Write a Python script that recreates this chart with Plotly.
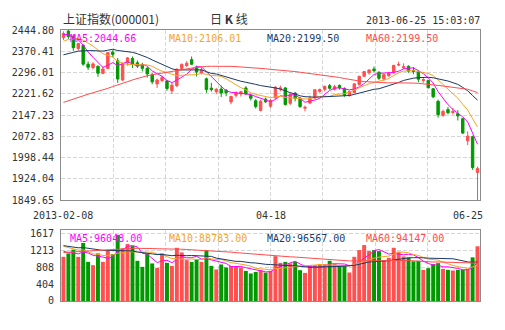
import pandas as pd
import plotly.graph_objects as go

# ---------------- data ----------------
dates = ["2013-02-08","2013-02-18","2013-02-19","2013-02-20","2013-02-21","2013-02-22","2013-02-25","2013-02-26","2013-02-27","2013-02-28",
         "2013-03-01","2013-03-04","2013-03-05","2013-03-06","2013-03-07","2013-03-08","2013-03-11","2013-03-12","2013-03-13","2013-03-14",
         "2013-03-15","2013-03-18","2013-03-19","2013-03-20","2013-03-21","2013-03-22","2013-03-25","2013-03-26","2013-03-27","2013-03-28",
         "2013-03-29","2013-04-01","2013-04-02","2013-04-03","2013-04-08","2013-04-09","2013-04-10","2013-04-11","2013-04-12","2013-04-15",
         "2013-04-16","2013-04-17","2013-04-18","2013-04-19","2013-04-22","2013-04-23","2013-04-24","2013-04-25","2013-04-26","2013-05-02",
         "2013-05-03","2013-05-06","2013-05-07","2013-05-08","2013-05-09","2013-05-10","2013-05-13","2013-05-14","2013-05-15","2013-05-16",
         "2013-05-17","2013-05-20","2013-05-21","2013-05-22","2013-05-23","2013-05-24","2013-05-27","2013-05-28","2013-05-29","2013-05-30",
         "2013-05-31","2013-06-03","2013-06-04","2013-06-05","2013-06-06","2013-06-07","2013-06-13","2013-06-14","2013-06-17","2013-06-18",
         "2013-06-19","2013-06-20","2013-06-21","2013-06-24","2013-06-25"]

opens = [2418,2441,2422,2380,2391,2325,2313,2318,2293,2310,
         2367,2337,2270,2330,2345,2330,2323,2310,2288,2256,
         2268,2266,2232,2250,2310,2320,2341,2315,2294,2274,
         2241,2229,2238,2234,2193,2216,2221,2242,2216,2197,
         2163,2203,2178,2207,2238,2242,2188,2224,2206,2171,
         2189,2207,2230,2237,2250,2237,2251,2240,2215,2226,
         2254,2283,2295,2308,2297,2274,2284,2296,2322,2312,
         2318,2303,2299,2268,2268,2239,2195,2146,2166,2156,
         2152,2134,2057,2071,1946]
highs = [2440,2444.8,2430,2400,2395,2335,2332,2320,2318,2367,
         2374,2347,2330,2350,2352,2338,2330,2316,2294,2275,
         2285,2270,2260,2310,2328,2336,2352,2320,2314,2278,
         2260,2242,2250,2238,2215,2230,2232,2248,2222,2203,
         2200,2208,2203,2248,2250,2245,2226,2228,2210,2180,
         2215,2237,2240,2251,2256,2253,2254,2244,2233,2258,
         2284,2301,2306,2317,2300,2293,2298,2322,2334,2328,
         2321,2315,2304,2280,2269,2242,2201,2166,2175,2172,
         2164,2137,2090,2075,1967]
lows = [2410,2414,2372,2373,2320,2305,2307,2281,2290,2308,
        2350,2260,2266,2320,2312,2312,2300,2278,2255,2242,
        2262,2232,2221,2245,2305,2316,2322,2282,2290,2225,
        2229,2220,2210,2213,2185,2208,2212,2218,2198,2170,
        2160,2190,2172,2204,2230,2180,2182,2195,2172,2160,
        2185,2203,2225,2230,2236,2233,2236,2211,2212,2222,
        2250,2279,2288,2297,2270,2267,2282,2290,2318,2308,
        2295,2290,2262,2260,2240,2206,2138,2141,2150,2149,
        2128,2081,2042,1955,1849.65]
closes = [2432.4,2421.6,2382.9,2397.2,2325.2,2314.2,2326.2,2293.7,2308.2,2365.6,
          2359.5,2273.4,2326.2,2347.2,2324.2,2318.6,2310.6,2291.1,2263.2,2270.0,
          2278.4,2240.0,2251.5,2307.7,2324.2,2328.3,2325.0,2297.5,2305.0,2236.6,
          2236.3,2237.0,2224.0,2225.0,2212.0,2225.9,2229.0,2221.0,2206.0,2177.0,
          2195.0,2193.0,2198.0,2244.6,2242.0,2184.0,2219.0,2205.0,2177.0,2174.1,
          2205.5,2235.6,2236.5,2246.9,2240.7,2246.3,2242.1,2217.0,2229.6,2256.3,
          2282.9,2299.2,2305.1,2302.4,2275.7,2288.5,2293.1,2321.2,2324.2,2316.0,
          2300.6,2299.2,2272.4,2270.9,2242.6,2210.9,2148.4,2160.0,2155.0,2159.0,
          2144.0,2084.0,2073.1,1963.2,1959.5]
volumes = [1058,1139,1230,1058,1390,937,858,1139,937,1219,
           1123,1579,1260,1363,1315,962,817,1139,899,793,
           1139,914,841,1274,1163,978,937,995,937,1219,
           841,755,875,803,841,817,803,721,659,697,
           738,680,720,1074,914,937,899,937,738,673,
           858,858,882,882,962,882,858,846,683,1058,
           1219,1339,1195,1219,1195,978,1034,1274,1180,1067,
           1043,950,962,746,786,882,906,770,746,730,
           746,746,770,1045,1310]

# trading days before 2013-02-08 (needed only for the moving averages)
prior_close = [2055,2031,2014,2016,2011,2024,2011,2018,2006,1992,1973,1960,1980,
               1959,1974,2032,2030,2063,2082,2075,2074,2051,2150,2162,2161,2167,2165,2153,2159,2213,2216,2204,2233,2269,
               2276,2286,2277,2276,2283,2243,2311,2326,2309,2285,2318,2328,2315,2321,2303,2292,2358,2361,2382,2385,
               2419,2428,2434,2435,2418]
prior_volume = [800,780,760,740,720,760,740,700,720,700,760,780,820,
                760,800,1150,1050,1100,1200,1050,1000,950,1500,1450,1400,1350,1250,1200,1150,1500,1450,1300,1350,1450,
                1500,1450,1300,1250,1300,1200,1500,1550,1400,1300,1350,1300,1250,1300,1250,1200,1450,1400,1500,1350,
                1450,1300,1250,1200,1150]

price_ticks = ["2444.80","2370.41","2296.01","2221.62","2147.23","2072.83","1998.44","1924.04","1849.65"]
volume_ticks = ["0","404","808","1213","1617"]
x_labels = {0: "2013-02-08", 42: "04-18", 84: "06-25"}

ma_periods = [5, 10, 20, 60]
ma_colors = ["#FF00FF", "#F5A623", "#1B3A66", "#FF4C4C"]
price_ma_text = ["MA5:2044.66", "MA10:2106.01", "MA20:2199.50", "MA60:2199.50"]
volume_ma_text = ["MA5:96048.00", "MA10:88783.00", "MA20:96567.00", "MA60:94147.00"]

RED = "#FF4F4F"
GREEN = "#009900"
GRID = "#D6D6D6"
FRAME = "#8C8C8C"
TXT = "#333333"
MONO = "DejaVu Sans Mono"

n = len(dates)
x = list(range(n))
close_all = pd.Series(prior_close + closes, dtype=float)
vol_all = pd.Series(prior_volume + volumes, dtype=float)

fig = go.Figure()

fig.add_trace(go.Candlestick(
    x=x, open=opens, high=highs, low=lows, close=closes,
    increasing=dict(line=dict(color=RED, width=1), fillcolor=RED),
    decreasing=dict(line=dict(color=GREEN, width=1), fillcolor=GREEN),
    whiskerwidth=0, xaxis="x", yaxis="y", hoverinfo="skip", showlegend=False))

for p, c in zip(ma_periods, ma_colors):
    ma = close_all.rolling(p).mean().iloc[-n:].tolist()
    fig.add_trace(go.Scatter(x=x, y=ma, mode="lines", line=dict(color=c, width=1),
                             xaxis="x", yaxis="y", hoverinfo="skip", showlegend=False))

bar_colors = [RED if c >= o else GREEN for o, c in zip(opens, closes)]
fig.add_trace(go.Bar(x=x, y=volumes, marker=dict(color=bar_colors, line=dict(width=0)),
                     xaxis="x2", yaxis="y2", hoverinfo="skip", showlegend=False))

for p, c in zip(ma_periods, ma_colors):
    ma = vol_all.rolling(p).mean().iloc[-n:].tolist()
    fig.add_trace(go.Scatter(x=x, y=ma, mode="lines", line=dict(color=c, width=1),
                             xaxis="x2", yaxis="y2", hoverinfo="skip", showlegend=False))

xcommon = dict(range=[-0.5, n - 0.5], tickmode="linear", tick0=-0.5, dtick=n / 8,
               showticklabels=False, ticks="", showgrid=True, gridcolor=GRID, griddash="4px,2px",
               gridwidth=1, zeroline=False, showline=True, mirror=True, linecolor=FRAME, linewidth=1,
               fixedrange=True)
ycommon = dict(showgrid=True, gridcolor=GRID, griddash="4px,2px", gridwidth=1, zeroline=False,
               showline=True, mirror=True, linecolor=FRAME, linewidth=1, ticks="",
               ticklabelstandoff=4, tickfont=dict(family=MONO, size=10, color=TXT), fixedrange=True)

fig.update_layout(
    width=505, height=330,
    margin=dict(l=55, r=25, t=30, b=29),
    paper_bgcolor="white", plot_bgcolor="white",
    font=dict(family=MONO, size=10, color=TXT),
    bargap=0.2,
    xaxis=dict(domain=[0, 1], anchor="y", rangeslider=dict(visible=False), **xcommon),
    xaxis2=dict(domain=[0, 1], anchor="y2", **xcommon),
    yaxis=dict(domain=[0.3727, 1], anchor="x", range=[1849.65, 2444.80],
               tickvals=[float(t) for t in price_ticks], ticktext=price_ticks, **ycommon),
    yaxis2=dict(domain=[0, 0.262], anchor="x2", range=[0, 1700],
                tickvals=[float(t) for t in volume_ticks], ticktext=volume_ticks, **ycommon),
)

ann = []
ann.append(dict(text="上证指数(000001)", xref="paper", yref="y domain", x=0, y=1,
                xanchor="left", yanchor="bottom", yshift=1, showarrow=False,
                font=dict(family="Noto Sans CJK SC", size=12, color=TXT)))
ann.append(dict(text="日 <b>K</b> 线", xref="paper", yref="y domain", x=0.4, y=1,
                xanchor="center", yanchor="bottom", yshift=1, showarrow=False,
                font=dict(family="Noto Sans CJK SC", size=12, color=TXT)))
ann.append(dict(text="2013-06-25 15:03:07", xref="paper", yref="y domain", x=1, y=1,
                xanchor="right", yanchor="bottom", yshift=2, xshift=2, showarrow=False,
                font=dict(family=MONO, size=10, color=TXT)))

label_x = [0.017, 0.252, 0.487, 0.722]
for lx, t, c in zip(label_x, price_ma_text, ma_colors):
    ann.append(dict(text=t, xref="paper", yref="y domain", x=lx, y=1, xanchor="left", yanchor="top",
                    yshift=-1, showarrow=False, font=dict(family=MONO, size=10, color=c)))
for lx, t, c in zip(label_x, volume_ma_text, ma_colors):
    ann.append(dict(text=t, xref="paper", yref="y2 domain", x=lx, y=1, xanchor="left", yanchor="top",
                    yshift=-1, showarrow=False, font=dict(family=MONO, size=10, color=c)))

for idx, t in x_labels.items():
    if idx == n - 1:
        ann.append(dict(text=t, xref="x", yref="y domain", x=idx + 0.5, y=0, xanchor="right",
                        yanchor="top", xshift=5, yshift=-8, showarrow=False,
                        font=dict(family=MONO, size=10, color=TXT)))
    else:
        ann.append(dict(text=t, xref="x", yref="y domain", x=idx, y=0, xanchor="center",
                        yanchor="top", yshift=-8, showarrow=False,
                        font=dict(family=MONO, size=10, color=TXT)))

fig.update_layout(annotations=ann)
fig.write_html("out.html")
